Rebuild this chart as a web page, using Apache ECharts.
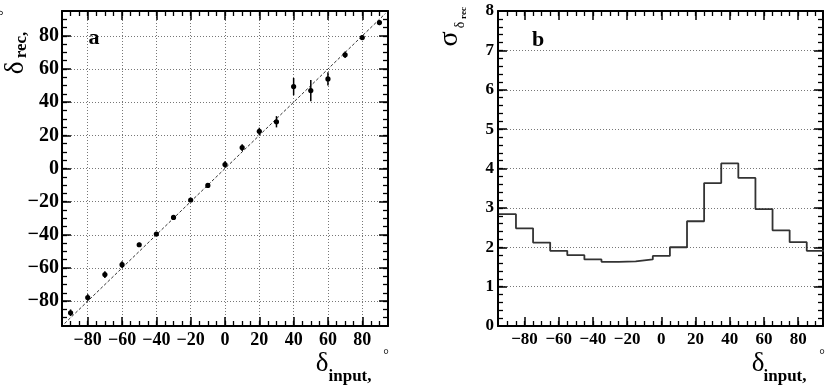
<!DOCTYPE html>
<html>
<head>
<meta charset="utf-8">
<script src="https://cdn.jsdelivr.net/npm/echarts@6/dist/echarts.min.js"></script>
<style>
  html, body { margin: 0; padding: 0; background: #fff; }
  #chart { width: 830px; height: 388px; }
</style>
</head>
<body>
<div id="chart"></div>
<script>
// panel a: reconstructed angle vs input angle (deg)
const inputAngle = [-90, -80, -70, -60, -50, -40, -30, -20, -10, 0, 10, 20, 30, 40, 50, 60, 70, 80, 90];
const recAngle = [-87, -77.8, -64, -58, -46, -39.5, -29.5, -19, -10.2, 2.4, 12.6, 22.4, 28.2, 49.4, 47, 54, 68.6, 79, 88];
const recError = [2, 2, 2, 2, 1.2, 1.2, 1.2, 1.2, 1.2, 2, 2, 2.2, 3.4, 5.2, 6.4, 4, 2, 1.5, 1.5];
const diagonal = [-93.5, 93.5];

// panel b: resolution of reconstructed angle, 10 deg bins
const binLow = [-95, -85, -75, -65, -55, -45, -35, -25, -15, -5, 5, 15, 25, 35, 45, 55, 65, 75, 85];
const binHigh = 95;
const sigmaRec = [2.84, 2.48, 2.12, 1.91, 1.80, 1.69, 1.63, 1.64, 1.69, 1.78, 2.00, 2.66, 3.63, 4.13, 3.76, 2.97, 2.43, 2.13, 1.91];

const angleLabels = [-80, -60, -40, -20, 0, 20, 40, 60, 80];
const sigmaLabels = [0, 1, 2, 3, 4, 5, 6, 7, 8];

const FONT = "'Liberation Serif', 'Times New Roman', serif";

function steps(a, b, s) {
  const out = [];
  for (let v = a; v <= b + 1e-9; v += s) out.push(Math.round(v * 100) / 100);
  return out;
}
const angleMinor = steps(-90, 90, 5);
const sigmaMinor = steps(0.2, 7.8, 0.2);

const minus = (v) => String(v).replace('-', '\u2212');
const gridDots = { show: true, lineStyle: { color: '#777', type: [1, 2], width: 1 } };

// per side: main axis (line, labels, major ticks, grid) + an overlay for minor ticks
function axisSet(dim, grid, min, max, major, minor, fontSize, showGrid, margin) {
  const sides = dim === 'x' ? ['bottom', 'top'] : ['left', 'right'];
  const out = [];
  sides.forEach((pos, k) => {
    out.push({
      gridIndex: grid, type: 'value', min: min, max: max, position: pos,
      axisLine: { show: true, onZero: false, lineStyle: { color: '#000', width: 2 } },
      axisTick: { show: true, inside: true, length: 9, customValues: major.slice(), lineStyle: { color: '#000', width: 1.5 } },
      axisLabel: k === 0 ? {
        show: true, customValues: major.slice(), formatter: minus, margin: margin,
        fontFamily: FONT, fontWeight: 'bold', fontSize: fontSize, color: '#000'
      } : { show: false },
      splitLine: k === 0 && showGrid ? gridDots : { show: false }
    });
    out.push({
      gridIndex: grid, type: 'value', min: min, max: max, position: pos,
      axisLine: { show: false, onZero: false },
      axisTick: { show: true, inside: true, length: 5, customValues: minor.slice(), lineStyle: { color: '#000', width: 1.3 } },
      axisLabel: { show: false },
      splitLine: { show: false }
    });
  });
  return out;
}

const chart = echarts.init(document.getElementById('chart'));

const rot = Math.PI / 2;
function txt(x, y, text, size, opts) {
  return Object.assign({
    type: 'text', x: x, y: y,
    style: {
      text: text, fill: '#000', align: 'center', verticalAlign: 'middle',
      font: (opts && opts.bold ? 'bold ' : '') + size + 'px ' + FONT
    }
  }, opts && opts.rotate ? { rotation: rot } : {});
}

chart.setOption({
  animation: false,
  backgroundColor: '#fff',
  grid: [
    { left: 62, top: 11, width: 326, height: 315 },
    { left: 498, top: 11, width: 325, height: 315 }
  ],
  xAxis: [].concat(
    axisSet('x', 0, -95, 95, angleLabels, angleMinor, 18, true, 5),
    axisSet('x', 1, -95.5, 94.5, angleLabels, angleMinor, 17, false, 5)
  ),
  yAxis: [].concat(
    axisSet('y', 0, -95, 95, angleLabels, angleMinor, 20, true, 3),
    axisSet('y', 1, 0, 8, sigmaLabels, sigmaMinor, 17, true, 4)
  ),
  graphic: [
    txt(94, 38, 'a', 22, { bold: true }),
    txt(538, 40, 'b', 22, { bold: true }),
    // axis titles, panel a
    txt(16, 68, '\u03b4', 27, { rotate: true }),
    txt(22, 45, 'rec,', 17, { rotate: true, bold: true }),
    txt(4, 13, '\u00b0', 14, { rotate: true }),
    txt(322, 364, '\u03b4', 27),
    txt(350, 377, 'input,', 17, { bold: true }),
    txt(386, 355, '\u00b0', 14),
    // axis titles, panel b
    txt(450, 39, '\u03c3', 28, { rotate: true }),
    txt(460, 25, '\u03b4', 14, { rotate: true }),
    txt(464, 13, 'rec', 9, { rotate: true, bold: true }),
    txt(758, 364, '\u03b4', 27),
    txt(785, 377, 'input,', 17, { bold: true }),
    txt(822, 355, '\u00b0', 14)
  ],
  series: [
    {
      type: 'line', xAxisIndex: 0, yAxisIndex: 0,
      data: [[diagonal[0], diagonal[0]], [diagonal[1], diagonal[1]]],
      symbol: 'none',
      lineStyle: { color: '#333', width: 1, type: [3, 2] },
      z: 3
    },
    {
      type: 'custom', xAxisIndex: 0, yAxisIndex: 0,
      data: inputAngle.map((x, i) => [x, recAngle[i], recError[i]]),
      renderItem: (params, api) => {
        const x = api.value(0), y = api.value(1), e = api.value(2);
        const lo = api.coord([x, y - e]);
        const hi = api.coord([x, y + e]);
        const c = api.coord([x, y]);
        return {
          type: 'group',
          children: [
            { type: 'line', shape: { x1: lo[0], y1: lo[1], x2: hi[0], y2: hi[1] }, style: { stroke: '#000', lineWidth: 1.5 } },
            { type: 'circle', shape: { cx: c[0], cy: c[1], r: 2.6 }, style: { fill: '#000' } }
          ]
        };
      },
      z: 5
    },
    {
      type: 'line', xAxisIndex: 4, yAxisIndex: 4,
      step: 'end',
      data: binLow.map((x, i) => [x, sigmaRec[i]]).concat([[binHigh, sigmaRec[sigmaRec.length - 1]]]),
      symbol: 'none',
      lineStyle: { color: '#333', width: 1.8 },
      z: 5
    }
  ]
});
</script>
</body>
</html>
